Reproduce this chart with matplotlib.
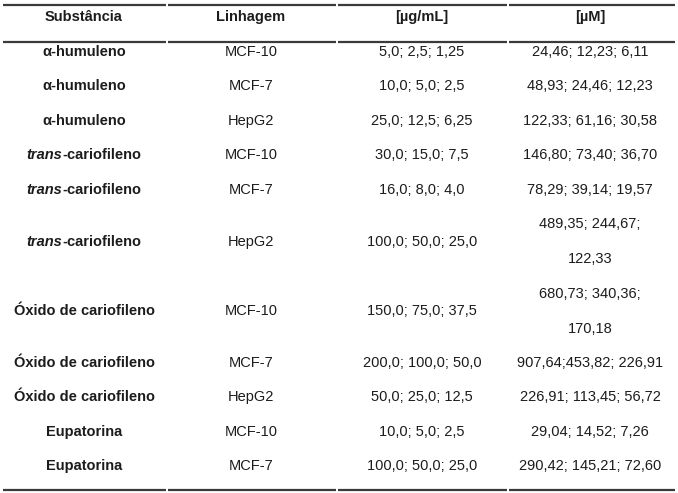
import matplotlib
matplotlib.use("Agg")
import matplotlib.pyplot as plt

# ---- data ----
headers = ["Substância", "Linhagem", "[µg/mL]", "[µM]"]
substances = ["α-humuleno", "α-humuleno", "α-humuleno",
              "trans-cariofileno", "trans-cariofileno", "trans-cariofileno",
              "Óxido de cariofileno", "Óxido de cariofileno", "Óxido de cariofileno",
              "Eupatorina", "Eupatorina"]
cell_lines = ["MCF-10", "MCF-7", "HepG2", "MCF-10", "MCF-7", "HepG2",
              "MCF-10", "MCF-7", "HepG2", "MCF-10", "MCF-7"]
conc_ug_ml = ["5,0; 2,5; 1,25", "10,0; 5,0; 2,5", "25,0; 12,5; 6,25",
              "30,0; 15,0; 7,5", "16,0; 8,0; 4,0", "100,0; 50,0; 25,0",
              "150,0; 75,0; 37,5", "200,0; 100,0; 50,0", "50,0; 25,0; 12,5",
              "10,0; 5,0; 2,5", "100,0; 50,0; 25,0"]
conc_um = ["24,46; 12,23; 6,11", "48,93; 24,46; 12,23", "122,33; 61,16; 30,58",
           "146,80; 73,40; 36,70", "78,29; 39,14; 19,57", "489,35; 244,67; 122,33",
           "680,73; 340,36; 170,18", "907,64;453,82; 226,91", "226,91; 113,45; 56,72",
           "29,04; 14,52; 7,26", "290,42; 145,21; 72,60"]
wrapped_rows = [5, 6]   # rows whose µM cell wraps onto two lines

# ---- layout (pixels) ----
W, H = 678, 493
DPI = 100
FS = 10.5
FONT = "Liberation Sans"
COLOR = "#1c1c1c"
col_x = [84, 251, 422, 590]
col_bounds = [3, 167, 337, 508, 675]
top_line, header_y, header_line, bottom_line = 5, 17, 42, 490
single_h, double_h = 34.4, 69.5
first_row_y = 52

fig = plt.figure(figsize=(W / DPI, H / DPI), dpi=DPI)
ax = fig.add_axes([0, 0, 1, 1])
ax.set_xlim(0, W)
ax.set_ylim(H, 0)
ax.axis("off")

def hline(y, lw=1.6):
    for i in range(len(col_bounds) - 1):
        x0 = col_bounds[i] + (0.6 if i > 0 else 0)
        x1 = col_bounds[i + 1] - (0.6 if i < len(col_bounds) - 2 else 0)
        ax.plot([x0, x1], [y, y], color="#3a3a3a", lw=lw, solid_capstyle="butt")

hline(top_line)
hline(header_line)
hline(bottom_line)

for x, h in zip(col_x, headers):
    ax.text(x, header_y, h, ha="center", va="center", fontsize=FS,
            fontweight="bold", family=FONT, color=COLOR)

renderer = fig.canvas.get_renderer()

def mixed_text(xc, y, parts):
    """parts: list of (text, style) drawn side by side, centered at xc."""
    objs = []
    for txt, style in parts:
        t = ax.text(0, y, txt, ha="left", va="center", fontsize=FS,
                    fontweight="bold", fontstyle=style, family=FONT, color=COLOR)
        objs.append(t)
    widths = [t.get_window_extent(renderer).width for t in objs]
    total = sum(widths)
    x = xc - total / 2
    for t, w in zip(objs, widths):
        t.set_x(x)
        x += w

# row centres
ys = []
y = first_row_y
for i in range(len(substances)):
    if i in wrapped_rows:
        if i - 1 in wrapped_rows:
            y += double_h / 2 + double_h / 2
        else:
            y += single_h / 2 + double_h / 2
    elif i > 0:
        if i - 1 in wrapped_rows:
            y += double_h / 2 + single_h / 2
        else:
            y += single_h
    ys.append(y)

for i, yc in enumerate(ys):
    s = substances[i]
    if s.startswith("trans-"):
        mixed_text(col_x[0], yc, [("trans", "italic"), (s[len("trans"):], "normal")])
    else:
        ax.text(col_x[0], yc, s, ha="center", va="center", fontsize=FS,
                fontweight="bold", family=FONT, color=COLOR)
    ax.text(col_x[1], yc, cell_lines[i], ha="center", va="center", fontsize=FS,
            family=FONT, color=COLOR)
    ax.text(col_x[2], yc, conc_ug_ml[i], ha="center", va="center", fontsize=FS,
            family=FONT, color=COLOR)
    if i in wrapped_rows:
        parts = conc_um[i].split("; ")
        first = "; ".join(parts[:2]) + ";"
        second = parts[2]
        ax.text(col_x[3], yc - 17.5, first, ha="center", va="center", fontsize=FS,
                family=FONT, color=COLOR)
        ax.text(col_x[3], yc + 17.5, second, ha="center", va="center", fontsize=FS,
                family=FONT, color=COLOR)
    else:
        ax.text(col_x[3], yc, conc_um[i], ha="center", va="center", fontsize=FS,
                family=FONT, color=COLOR)

fig.savefig("out.png", dpi=DPI)
